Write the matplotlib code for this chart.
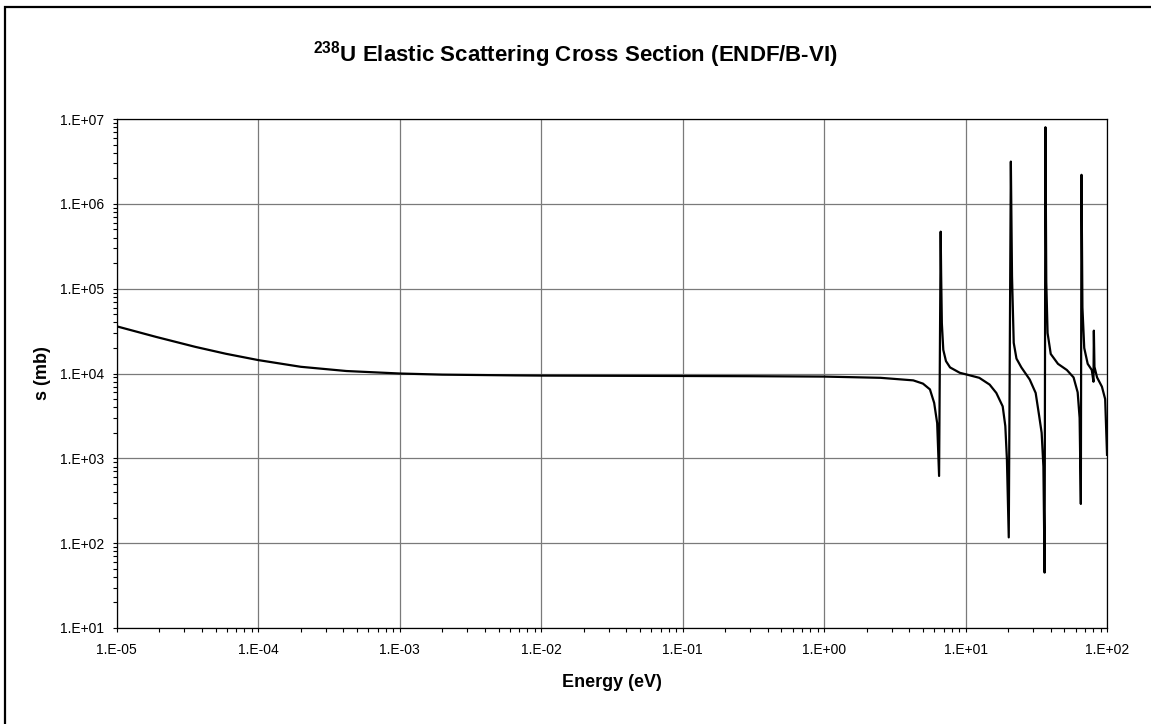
import numpy as np
import matplotlib
matplotlib.use("Agg")
import matplotlib.pyplot as plt
import matplotlib.ticker as ticker
from matplotlib.patches import Rectangle

energy = [1e-5, 1.9e-5, 3.6e-5, 5.9e-5, 1e-4, 2e-4, 4.2e-4,
          1e-3, 2e-3, 6.6e-3, 1e-2, 3e-2, 1e-1, 3e-1, 1.0, 2.5, 4.27,
          5.0, 5.6, 6.0, 6.3, 6.5, 6.67, 6.72, 6.80, 6.96, 7.27,
          7.77, 9.1, 10.0, 12.5, 14.8, 16.5, 18.3, 19.1, 19.6, 20.2,
          20.9, 21.3, 21.9, 22.9, 24.8, 28.4, 31.3, 33.1, 34.5, 35.5,
          36.2, 36.7, 37.2, 38.0, 40.0, 45.0, 52.0, 58.0, 62.0, 64.0,
          65.3, 66.0, 67.0, 69.0, 73.0, 78.0, 80.2, 80.7, 81.5, 85.0,
          92.0, 97.0, 100.0]
sigma = [3.6e4, 2.7e4, 2.06e4, 1.71e4, 1.44e4, 1.2e4, 1.07e4,
         1.0e4, 9.7e3, 9.5e3, 9.45e3, 9.4e3, 9.35e3, 9.3e3, 9.2e3, 8.9e3, 8.3e3,
         7.6e3, 6.5e3, 4.5e3, 2.6e3, 6.2e2, 4.7e5, 1.5e5, 3.9e4, 1.9e4, 1.4e4,
         1.18e4, 1.02e4, 9.8e3, 8.9e3, 7.4e3, 5.9e3, 4.1e3, 2.4e3, 9.8e2, 1.17e2,
         3.15e6, 1.4e5, 2.3e4, 1.5e4, 1.18e4, 8.5e3, 5.9e3, 3.2e3, 2.0e3, 8.0e2,
         4.5e1, 8.0e6, 1.2e5, 3.0e4, 1.7e4, 1.3e4, 1.1e4, 9.0e3, 6.0e3, 3.0e3,
         2.9e2, 2.2e6, 6.0e4, 2.0e4, 1.3e4, 1.1e4, 8.0e3, 3.2e4, 1.2e4, 9.0e3,
         7.0e3, 5.0e3, 1.1e3]

plt.rcParams["font.family"] = ["Liberation Sans", "DejaVu Sans"]
plt.rcParams["mathtext.fontset"] = "custom"
plt.rcParams["mathtext.rm"] = "Liberation Sans:bold"
plt.rcParams["mathtext.bf"] = "Liberation Sans:bold"


def fmt(v, pos):
    return "1.E%+03d" % int(round(np.log10(v)))


def main():
    fig = plt.figure(figsize=(11.51, 7.24), dpi=100)
    ax = fig.add_axes([0.1014, 0.1326, 0.8604, 0.703])

    ax.plot(energy, sigma, color="black", lw=1.6)
    ax.set_xscale("log")
    ax.set_yscale("log")
    ax.set_xlim(1e-5, 1e2)
    ax.set_ylim(1e1, 1e7)

    for a in (ax.xaxis, ax.yaxis):
        a.set_major_locator(ticker.LogLocator(base=10, numticks=20))
        a.set_minor_locator(ticker.LogLocator(base=10, subs=np.arange(2, 10), numticks=100))
        a.set_major_formatter(ticker.FuncFormatter(fmt))
        a.set_minor_formatter(ticker.NullFormatter())

    ax.grid(True, which="major", color="#7a7a7a", lw=0.9)
    ax.tick_params(which="both", direction="out", length=3, width=0.8, labelsize=10)
    ax.tick_params(axis="x", which="both", pad=8)
    ax.tick_params(axis="y", which="both", pad=6)
    for s in ax.spines.values():
        s.set_color("black")
        s.set_linewidth(0.9)

    ax.set_xlabel("Energy (eV)", fontsize=13, fontweight="bold", va="center")
    ax.xaxis.set_label_coords(0.5, -0.108)
    ax.set_ylabel("s (mb)", fontsize=13, fontweight="bold", va="center")
    ax.yaxis.set_label_coords(-0.0754, 0.5)

    fig.text(0.5, 0.9144, "$^{238}$U Elastic Scattering Cross Section (ENDF/B-VI)",
             fontsize=16, fontweight="bold", ha="center", va="baseline")

    fig.add_artist(Rectangle((4.5 / 1151, -0.1), 1.2, 1.091, transform=fig.transFigure,
                             fill=False, edgecolor="black", lw=1.6))

    fig.savefig("out.png", dpi=100)
    plt.close(fig)


if __name__ == "__main__":
    main()
